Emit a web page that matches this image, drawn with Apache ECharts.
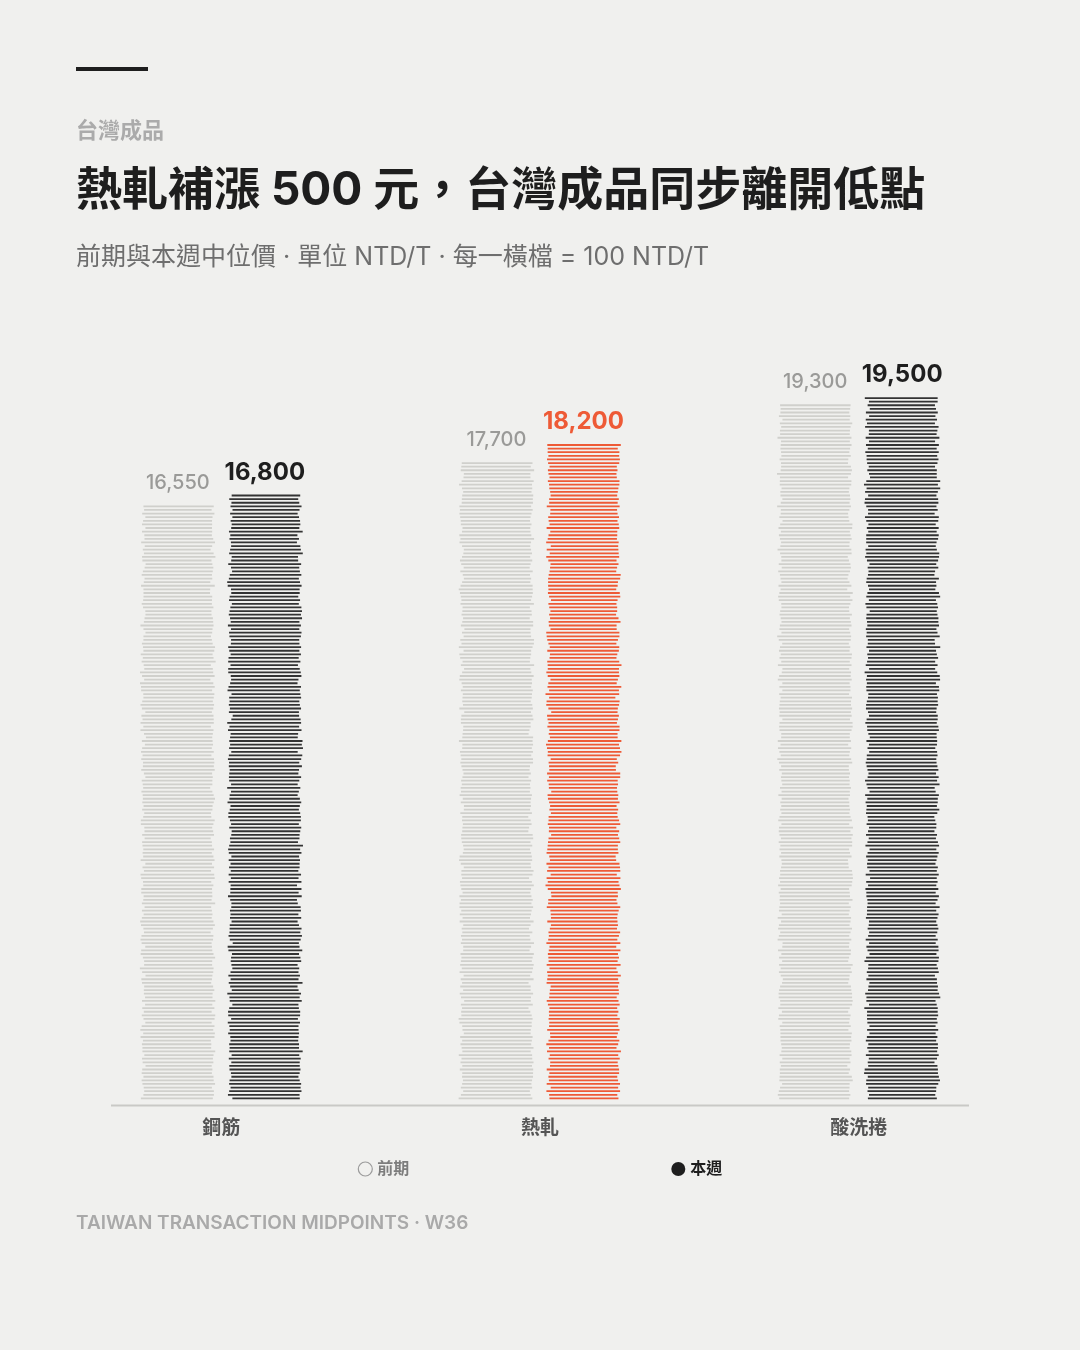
<!DOCTYPE html>
<html>
<head>
<meta charset="utf-8">
<script src="https://cdn.jsdelivr.net/npm/echarts@6/dist/echarts.min.js"></script>
<style>
  html,body{margin:0;padding:0;background:#f0f0ee;}
  #chart{width:1080px;height:1350px;}
</style>
</head>
<body>
<div id="chart"></div>
<script>
// ---- data ----
const categories = ['鋼筋', '熱軋', '酸洗捲'];
const prevValues = [16550, 17700, 19300];
const currValues = [16800, 18200, 19500];
const highlightCategory = '熱軋';
const seriesNames = ['前期', '本週'];
const STEP = 100; // one rung = 100 NTD/T

// ---- style ----
const BG = '#f0f0ee';
const PREV_COLOR = '#d0d0cc';
const CURR_COLOR = '#333333';
const HIGHLIGHT = '#ee5a36';
const INK = '#1e1e1e';
const FONT = 'Inter, "Noto Sans CJK TC", sans-serif';
const BAR_OFFSET = 43.5;
const BASE_W = 70;

function hash(n){
  const s = Math.sin(n * 12.9898 + 78.233) * 43758.5453;
  return s - Math.floor(s);
}
function fmt(v){ return v.toLocaleString('en-US'); }

function renderItem(params, api){
  const cat = api.value(0);
  const v = api.value(1);
  const s = params.seriesIndex;
  const center = api.coord([cat, 0]);
  const cx = center[0] + (s === 0 ? -1 : 1) * BAR_OFFSET;
  const color = api.visual('color');
  const n = Math.floor(v / STEP);
  const children = [];
  for (let k = 1; k <= n; k++){
    const y = api.coord([cat, k * STEP])[1];
    const seed = s * 5000 + cat * 700 + k;
    const w = BASE_W - 4 + hash(seed) * 8;
    const dx = (hash(seed + 0.37) - 0.5) * 2.5;
    children.push({
      type: 'line',
      shape: {x1: cx - w/2 + dx, y1: y, x2: cx + w/2 + dx, y2: y},
      style: {stroke: color, lineWidth: 1.8}
    });
  }
  const topY = api.coord([cat, n * STEP])[1];
  const isPrev = s === 0;
  children.push({
    type: 'text',
    style: {
      text: fmt(v),
      x: cx, y: topY - 23,
      align: 'center', verticalAlign: 'middle',
      font: (isPrev ? '500 20px ' : 'bold 24px ') + FONT,
      fill: isPrev ? '#9a9a98' : (color === HIGHLIGHT ? HIGHLIGHT : INK)
    }
  });
  return {type: 'group', children};
}

const prevData = prevValues.map((v, i) => [i, v]);
const currData = currValues.map((v, i) => categories[i] === highlightCategory
  ? {value: [i, v], itemStyle: {color: HIGHLIGHT}}
  : [i, v]);

const chart = echarts.init(document.getElementById('chart'), null, {renderer: 'canvas'});
chart.setOption({
  backgroundColor: BG,
  animation: false,
  textStyle: {fontFamily: FONT},
  grid: {left: 62, right: 62, top: 380, bottom: 248},
  xAxis: {
    type: 'category',
    data: categories,
    axisLine: {show: false},
    axisTick: {show: false},
    axisLabel: {fontSize: 19, fontWeight: 'bold', color: '#555', margin: 17, fontFamily: FONT}
  },
  yAxis: {
    type: 'value', min: 0, max: 20000, show: false,
    splitLine: {show: false}
  },
  legend: {
    left: 'center', top: 1161, padding: 0,
    itemGap: 262, itemWidth: 14, itemHeight: 14,
    textStyle: {fontSize: 16, fontWeight: 'bold', fontFamily: FONT},
    data: [
      {name: seriesNames[0], icon: 'circle',
       itemStyle: {color: 'rgba(0,0,0,0)', borderColor: '#9b9b9b', borderWidth: 1.2},
       textStyle: {color: '#7d7d7d'}},
      {name: seriesNames[1], icon: 'circle',
       itemStyle: {color: INK},
       textStyle: {color: INK}}
    ]
  },
  series: [
    {name: seriesNames[0], type: 'custom', renderItem, itemStyle: {color: PREV_COLOR}, data: prevData},
    {name: seriesNames[1], type: 'custom', renderItem, itemStyle: {color: CURR_COLOR}, data: currData}
  ],
  graphic: [
    {type: 'rect', left: 76, top: 67, shape: {width: 72, height: 4}, style: {fill: INK}},
    {type: 'text', x: 76, y: 131, style: {text: '台灣成品', font: 'bold 22px ' + FONT, fill: '#ababab', verticalAlign: 'middle'}},
    {type: 'text', x: 76, y: 191, style: {text: '熱軋補漲 500 元，台灣成品同步離開低點', font: 'bold 46px ' + FONT, fill: INK, verticalAlign: 'middle'}},
    {type: 'text', x: 76, y: 257, style: {text: '前期與本週中位價 · 單位 NTD/T · 每一橫檔 = 100 NTD/T', font: '400 25px ' + FONT, fill: '#6e6e6e', verticalAlign: 'middle'}},
    {type: 'line', shape: {x1: 111, y1: 1105.5, x2: 969, y2: 1105.5}, style: {stroke: '#c9c9c6', lineWidth: 2}},
    {type: 'text', x: 76, y: 1223, style: {text: 'TAIWAN TRANSACTION MIDPOINTS · W36', font: '600 19px ' + FONT, fill: '#a9a9a9', verticalAlign: 'middle'}}
  ]
});
</script>
</body>
</html>
